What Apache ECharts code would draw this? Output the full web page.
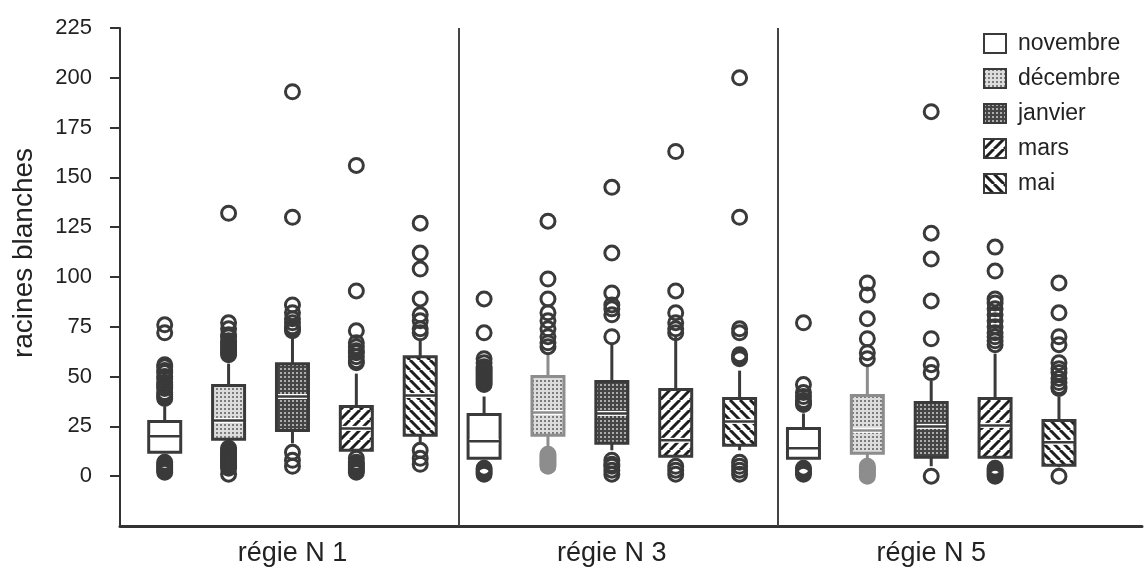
<!DOCTYPE html>
<html>
<head>
<meta charset="utf-8">
<script src="https://cdn.jsdelivr.net/npm/echarts@6/dist/echarts.min.js"></script>
<style>
  html, body { margin: 0; padding: 0; background: #ffffff; }
  #chart { width: 1144px; height: 574px; }
</style>
</head>
<body>
<div id="chart"></div>
<script>
// ---- data ----
const groups = ['régie N 1', 'régie N 3', 'régie N 5'];
const months = ['novembre', 'décembre', 'janvier', 'mars', 'mai'];
const yTicks = [0, 25, 50, 75, 100, 125, 150, 175, 200, 225];

// box statistics, one row per régie: [low whisker, Q1, median, Q3, high whisker]
const novembreBoxes = [[12, 12, 20, 27.5, 35], [9, 9, 17.5, 31, 40], [9, 9, 14, 24, 31.5]];
const decembreBoxes = [[16, 18.5, 28, 45.5, 56.5], [15, 20.5, 32, 50, 61.5], [9, 11.5, 23, 40.5, 55]];
const janvierBoxes = [[16.5, 23, 40, 56.5, 70], [13, 16.5, 31.5, 47.5, 66.5], [5, 9.5, 25, 37, 48]];
const marsBoxes = [[13, 13, 24, 35, 51.5], [10, 10, 18, 43.5, 70], [9.5, 9.5, 25.5, 39, 61.5]];
const maiBoxes = [[16.5, 20.5, 40.5, 60, 68], [13, 15.5, 27.5, 39, 53], [4.5, 5.5, 17, 28, 40]];

// values lying beyond the whiskers, one list per régie
const novembreOutliers = [
  [2, 3, 4, 5, 6, 7, 39, 40, 41, 42, 44, 45, 46, 47, 49, 50, 52, 53, 55, 56, 72, 76],
  [1, 2, 3, 4, 46, 47, 48, 49, 50, 51, 52, 53, 54, 55, 57, 59, 72, 89],
  [1, 2, 3, 4, 36, 37, 38, 40, 42, 46, 77]
];
const decembreOutliers = [
  [1, 4, 5, 6, 7, 8, 9, 10, 11, 12, 13, 14, 61, 62, 63, 64, 65, 66, 67, 68, 70, 71, 74, 77, 132],
  [5, 6, 7, 8, 9, 10, 11, 65, 67, 70, 74, 78, 82, 89, 99, 128],
  [0, 1, 2, 3, 4, 5, 59, 62, 69, 79, 91, 97]
];
const janvierOutliers = [
  [5, 8, 12, 73, 74, 75, 77, 79, 82, 86, 130, 193],
  [1, 3, 5, 6, 8, 70, 81, 84, 86, 92, 112, 145],
  [0, 52, 56, 69, 88, 109, 122, 183]
];
const marsOutliers = [
  [2, 3, 4, 5, 6, 7, 9, 57, 58, 60, 62, 63, 65, 67, 73, 93, 156],
  [1, 3, 5, 72, 74, 77, 82, 93, 163],
  [0, 1, 2, 3, 4, 66, 68, 70, 72, 75, 78, 81, 84, 87, 89, 103, 115]
];
const maiOutliers = [
  [6, 9, 13, 72, 74, 78, 81, 89, 104, 112, 127],
  [1, 3, 5, 7, 59, 60, 61, 72, 74, 130, 200],
  [0, 44, 45, 47, 49, 52, 54, 57, 66, 70, 82, 97]
];

const boxStats = [novembreBoxes, decembreBoxes, janvierBoxes, marsBoxes, maiBoxes];
const outliers = [novembreOutliers, decembreOutliers, janvierOutliers, marsOutliers, maiOutliers];

// ---- styling ----
const FONT = "'Liberation Sans', Arial, Helvetica, sans-serif";
const INK = '#3a3a3a';
const SOFT = '#8d8d8d';
const TEXT = '#222222';
const BOX_WIDTH = 32;

// décembre boxes of régies 3 and 5 are printed in a lighter grey
function isSoft(m, g) { return m === 1 && g > 0; }

function makePattern(size, draw) {
  const c = document.createElement('canvas');
  c.width = size;
  c.height = size;
  draw(c.getContext('2d'), size);
  return { image: c, repeat: 'repeat' };
}
function dots(bg, dot) {
  return makePattern(4, (ctx, s) => {
    ctx.fillStyle = bg; ctx.fillRect(0, 0, s, s);
    ctx.fillStyle = dot; ctx.fillRect(0, 0, 2, 2);
  });
}
function stripes(dir) {
  return makePattern(10, (ctx, s) => {
    ctx.fillStyle = '#ffffff'; ctx.fillRect(0, 0, s, s);
    ctx.strokeStyle = '#1e1e1e'; ctx.lineWidth = 3;
    ctx.beginPath();
    for (let k = -1; k <= 1; k++) {
      if (dir > 0) { ctx.moveTo(k * s, s); ctx.lineTo(k * s + s, 0); }
      else { ctx.moveTo(k * s, 0); ctx.lineTo(k * s + s, s); }
    }
    ctx.stroke();
  });
}
const fills = [
  '#ffffff',
  dots('#dcdcdc', '#7c7c7c'),
  dots('#454545', '#acacac'),
  stripes(1),
  stripes(-1)
];

// box position on the x scale: five months side by side inside each régie
const pos = (m, g) => g * 5 + m + 1;

function renderBox(m) {
  return function (params, api) {
    const x = api.value(0);
    const at = v => api.coord([x, v]);
    const low = at(api.value(1)), q1 = at(api.value(2)), med = at(api.value(3));
    const q3 = at(api.value(4)), high = at(api.value(5));
    const stroke = isSoft(m, params.dataIndex) ? SOFT : INK;
    const cx = q1[0];
    const half = BOX_WIDTH / 2;
    const line = { stroke: stroke, lineWidth: 3 };
    return {
      type: 'group',
      children: [
        { type: 'line', shape: { x1: cx, y1: q3[1], x2: cx, y2: high[1] }, style: line },
        { type: 'line', shape: { x1: cx, y1: q1[1], x2: cx, y2: low[1] }, style: line },
        { type: 'rect', shape: { x: cx - half, y: q3[1], width: 2 * half, height: q1[1] - q3[1] },
          style: { fill: fills[m], stroke: stroke, lineWidth: 3 } },
        { type: 'line', shape: { x1: cx - half + 1.5, y1: med[1], x2: cx + half - 1.5, y2: med[1] },
          style: { stroke: '#ffffff', lineWidth: 5 } },
        { type: 'line', shape: { x1: cx - half, y1: med[1], x2: cx + half, y2: med[1] },
          style: { stroke: stroke, lineWidth: 2.5 } }
      ]
    };
  };
}

const boxSeries = months.map((name, m) => ({
  name: name,
  type: 'custom',
  renderItem: renderBox(m),
  itemStyle: { color: fills[m], borderColor: INK },
  encode: { x: 0, y: [1, 2, 3, 4, 5] },
  data: boxStats[m].map((b, g) => [pos(m, g)].concat(b)),
  z: 2
}));

const pointSeries = months.map((name, m) => ({
  name: name,
  type: 'scatter',
  symbol: 'circle',
  symbolSize: 14,
  itemStyle: { color: 'rgba(0,0,0,0)', borderColor: INK, borderWidth: 3, opacity: 1 },
  data: outliers[m].flatMap((list, g) => list.map(v => {
    if (isSoft(m, g) && v < boxStats[m][g][1]) {
      return { value: [pos(m, g), v], itemStyle: { color: SOFT, borderColor: SOFT } };
    }
    return [pos(m, g), v];
  })),
  z: 3
}));

// vertical separators between the three régies
pointSeries[0].markLine = {
  silent: true,
  symbol: 'none',
  label: { show: false },
  lineStyle: { color: '#444444', width: 2, type: 'solid' },
  data: [1, 2].map(g => ({ xAxis: g * 5 + 0.6 }))
};

const labelPositions = groups.map((_, g) => pos(2, g));

const option = {
  animation: false,
  backgroundColor: '#ffffff',
  textStyle: { fontFamily: FONT },
  grid: { left: 120, right: 2, top: 28, bottom: 48 },
  legend: {
    orient: 'vertical',
    left: 978,
    top: 27,
    itemWidth: 22,
    itemHeight: 19,
    itemGap: 12,
    selectedMode: false,
    textStyle: { fontFamily: FONT, fontSize: 23, color: TEXT, padding: [0, 0, 0, 7] },
    data: months.map((name, m) => ({
      name: name,
      icon: 'rect',
      itemStyle: { color: fills[m], borderColor: INK, borderWidth: 2 }
    }))
  },
  xAxis: {
    type: 'value',
    min: 0.3,
    max: 16.3,
    splitLine: { show: false },
    axisTick: { show: false },
    axisLine: { onZero: false, lineStyle: { color: '#333333', width: 3 } },
    axisLabel: {
      customValues: labelPositions,
      formatter: v => groups[labelPositions.indexOf(Math.round(v))] || '',
      fontFamily: FONT,
      fontSize: 27,
      color: TEXT,
      margin: 14
    }
  },
  yAxis: {
    type: 'value',
    min: -25,
    max: 225,
    interval: 25,
    name: 'racines blanches',
    nameLocation: 'middle',
    nameGap: 82,
    nameTextStyle: { fontFamily: FONT, fontSize: 28, color: TEXT, padding: [0, 0, 0, 48] },
    splitLine: { show: false },
    axisLine: { show: true, onZero: false, lineStyle: { color: '#333333', width: 2 } },
    axisTick: { show: true, length: 10, customValues: yTicks, lineStyle: { color: '#333333', width: 2 } },
    axisLabel: { customValues: yTicks, fontFamily: FONT, fontSize: 22, color: TEXT, margin: 28 }
  },
  series: boxSeries.concat(pointSeries)
};

const chart = echarts.init(document.getElementById('chart'), null, { renderer: 'canvas' });
chart.setOption(option);
</script>
</body>
</html>
